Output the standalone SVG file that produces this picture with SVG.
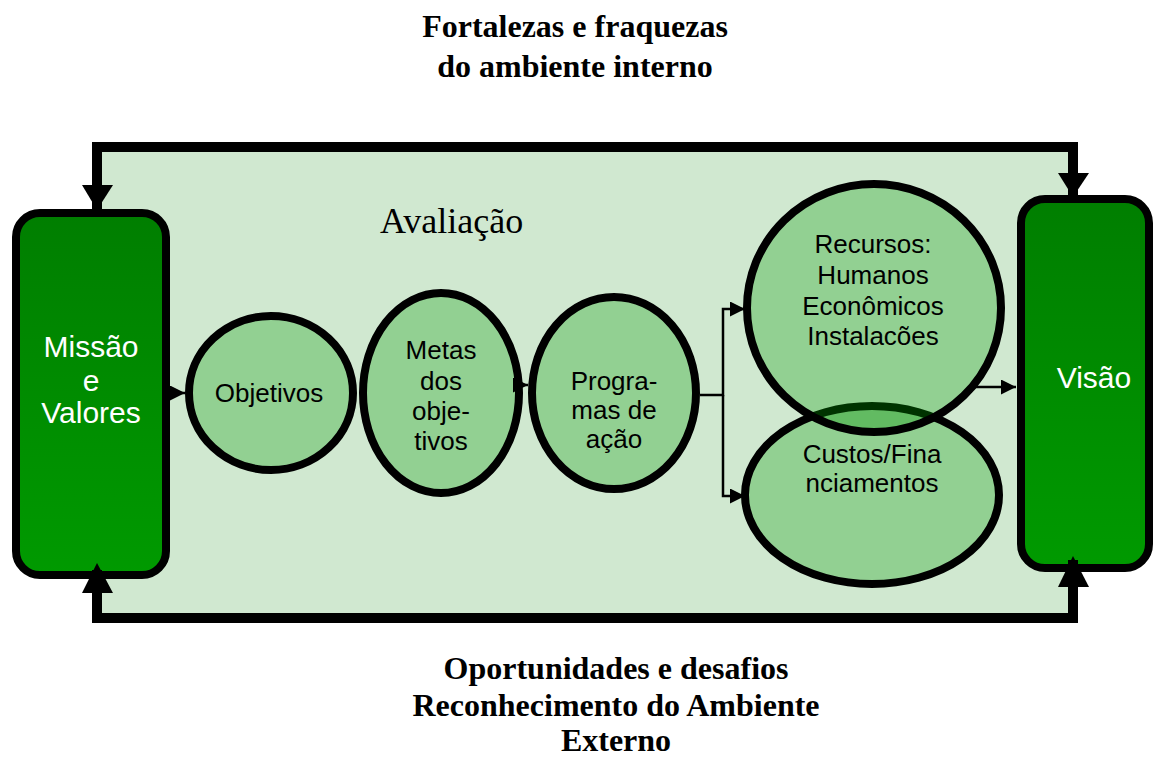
<svg xmlns="http://www.w3.org/2000/svg" width="1156" height="757" viewBox="0 0 1156 757">
<style>
.title{font-family:"Liberation Serif","Times New Roman",serif;font-weight:bold;font-size:32px;fill:#000;text-anchor:middle}
.ell{fill:#92d092;stroke:#000;stroke-width:8}
.lbl{font-family:"Liberation Sans",Arial,sans-serif;font-size:26px;fill:#000;text-anchor:middle}
.wlbl{font-family:"Liberation Sans",Arial,sans-serif;font-size:30px;fill:#fff;text-anchor:middle}
.box{fill:url(#g);stroke:#000;stroke-width:8}
.conn{fill:none;stroke:#000;stroke-width:2.5}
.thick{fill:none;stroke:#000;stroke-width:10}
</style>
<defs>
<linearGradient id="g" x1="0" y1="0" x2="0" y2="1">
<stop offset="0" stop-color="#007e00"/>
<stop offset="1" stop-color="#009a00"/>
</linearGradient>
<marker id="a" viewBox="0 0 10 10" refX="10" refY="5" markerWidth="6" markerHeight="6" markerUnits="strokeWidth" orient="auto">
<path d="M0,0 L10,5 L0,10 Z" fill="#000"/>
</marker>
<clipPath id="rc"><ellipse cx="874" cy="308" rx="127" ry="124"/></clipPath>
</defs>

<g id="frame">
<rect x="97" y="147" width="976" height="471" fill="#d0e8d0"/>
</g>

<g id="title">
<text class="title" x="575" y="37">Fortalezas e fraquezas</text>
<text class="title" x="575" y="77">do ambiente interno</text>
</g>
<g id="bottom-title">
<text class="title" x="616" y="679">Oportunidades e desafios</text>
<text class="title" x="616" y="716">Reconhecimento do Ambiente</text>
<text class="title" x="616" y="751">Externo</text>
</g>
<g id="avaliacao">
<text x="380" y="233" font-family="Liberation Serif,'Times New Roman',serif" font-size="36" fill="#000">Avaliação</text>
</g>

<g id="missao">
<rect class="box" x="16" y="213" width="150" height="362" rx="24"/>
<text class="wlbl" x="91" y="357">Missão</text>
<text class="wlbl" x="91" y="391">e</text>
<text class="wlbl" x="91" y="423">Valores</text>
</g>
<g id="visao">
<rect class="box" x="1021" y="199" width="128" height="369" rx="24"/>
<text class="wlbl" x="1094" y="388">Visão</text>
</g>

<g id="objetivos">
<ellipse class="ell" cx="271" cy="393" rx="82" ry="77"/>
<text class="lbl" x="269" y="402">Objetivos</text>
</g>
<g id="metas">
<ellipse class="ell" cx="441" cy="393" rx="78" ry="100"/>
<text class="lbl" x="441" y="359">Metas</text>
<text class="lbl" x="441" y="390">dos</text>
<text class="lbl" x="441" y="420">obje-</text>
<text class="lbl" x="441" y="450">tivos</text>
</g>
<g id="programas">
<ellipse class="ell" cx="614" cy="393" rx="82" ry="96"/>
<text class="lbl" x="614" y="390">Progra-</text>
<text class="lbl" x="614" y="419">mas de</text>
<text class="lbl" x="614" y="448">ação</text>
</g>
<g id="custos">
<ellipse class="ell" cx="872" cy="495" rx="127" ry="89"/>
</g>
<g id="recursos">
<ellipse cx="874" cy="308" rx="127" ry="124" fill="#92d092"/>
<g clip-path="url(#rc)">
<ellipse cx="872" cy="495" rx="127" ry="89" fill="#62bb62" stroke="#003300" stroke-width="8"/>
</g>
<ellipse cx="874" cy="308" rx="127" ry="124" fill="none" stroke="#000" stroke-width="8"/>
<text class="lbl" x="873" y="253">Recursos:</text>
<text class="lbl" x="873" y="284">Humanos</text>
<text class="lbl" x="873" y="315">Econômicos</text>
<text class="lbl" x="873" y="345">Instalacões</text>
</g>
<g id="custos-text">
<text class="lbl" x="872" y="463">Custos/Fina</text>
<text class="lbl" x="872" y="492">nciamentos</text>
</g>

<g id="connectors">
<path class="thick" d="M97,215 V147 H1073 V200"/>
<path d="M82,185 L113,185 L97,210 Z" fill="#000"/>
<path d="M1058,173 L1089,173 L1073,197 Z" fill="#000"/>
<path class="thick" d="M97,570 V618 H1073 V560"/>
<path d="M82,593 L113,593 L97,563 Z" fill="#000"/>
<path d="M1058,587 L1089,587 L1073,556 Z" fill="#000"/>
<path class="conn" d="M168,393 H185" marker-end="url(#a)"/>
<path class="conn" d="M516,385 H528" marker-end="url(#a)"/>
<path class="conn" d="M700,395 H723 V309 H745" marker-end="url(#a)"/>
<path class="conn" d="M723,395 V496 H745" marker-end="url(#a)"/>
<path class="conn" d="M975,387 H1016" marker-end="url(#a)"/>
</g>
</svg>
